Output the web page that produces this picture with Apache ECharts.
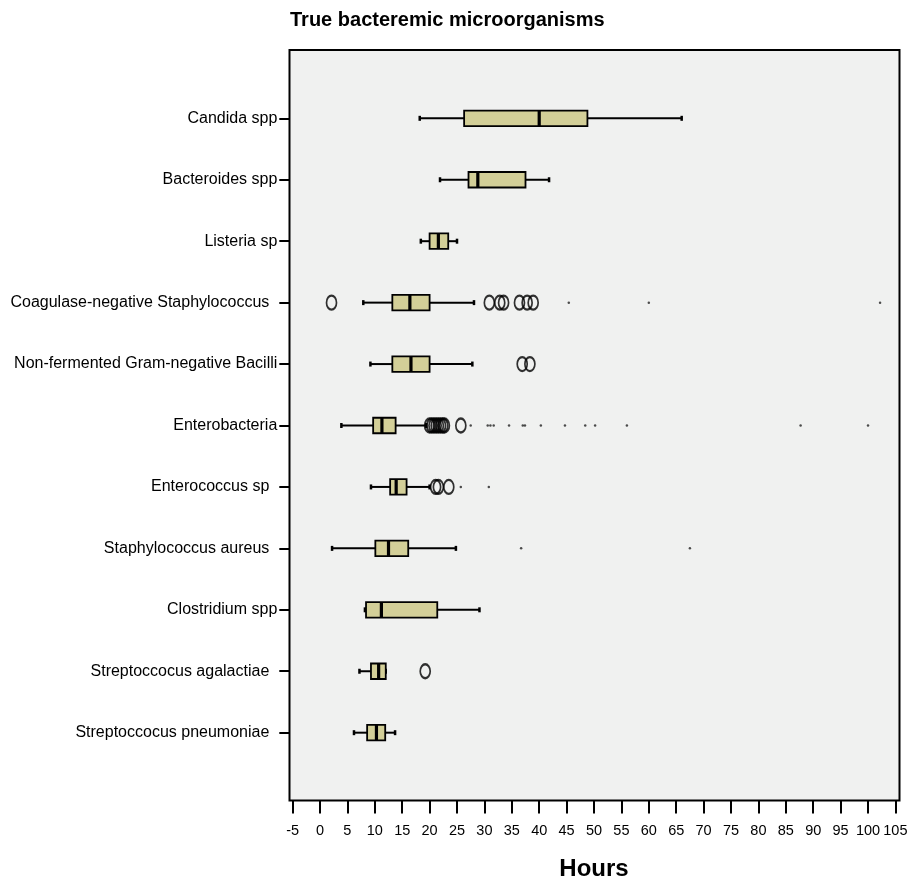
<!DOCTYPE html>
<html>
<head>
<meta charset="utf-8">
<script src="https://cdn.jsdelivr.net/npm/echarts@6/dist/echarts.min.js"></script>
<style>
html,body{margin:0;padding:0;background:#fff;}
#chart{width:909px;height:881px;}
</style>
</head>
<body>
<div id="chart"></div>
<script>
const categories = [
  'Candida spp',
  'Bacteroides spp',
  'Listeria sp',
  'Coagulase-negative Staphylococcus',
  'Non-fermented Gram-negative Bacilli',
  'Enterobacteria',
  'Enterococcus sp',
  'Staphylococcus aureus',
  'Clostridium spp',
  'Streptoccocus agalactiae',
  'Streptoccocus pneumoniae'
];
const lowWhisker  = [18.2, 21.9, 18.4,  7.9,  9.2,  3.9,  9.3,  2.2,  8.2,  7.2,  6.2];
const q1Values    = [26.3, 27.1, 20.0, 13.2, 13.2,  9.7, 12.8, 10.1,  8.4,  9.3,  8.6];
const medianVals  = [40.0, 28.8, 21.6, 16.4, 16.6, 11.3, 13.9, 12.5, 11.2, 10.7, 10.3];
const q3Values    = [48.8, 37.5, 23.4, 20.0, 20.0, 13.8, 15.8, 16.1, 21.4, 12.0, 11.9];
const highWhisker = [66.0, 41.8, 25.0, 28.1, 27.8, 19.4, 20.0, 24.8, 29.1, 12.0, 13.7];
const outliers = [
  [], [], [],
  [2.1, 30.9, 32.8, 33.5, 36.4, 37.8, 38.9],
  [36.9, 38.3],
  [20.0, 20.4, 20.8, 21.2, 21.6, 22.0, 22.4, 22.7, 25.7],
  [21.1, 21.6, 23.5],
  [], [],
  [19.2],
  []
];
const extremes = [
  [], [], [],
  [45.4, 60.0, 102.2],
  [],
  [27.5, 30.6, 31.1, 31.7, 34.5, 37.0, 37.4, 40.3, 44.7, 48.4, 50.2, 56.0, 87.7, 100.0],
  [25.7, 30.8],
  [36.7, 67.5],
  [], [], []
];
// labels that carry a trailing blank in the original figure
const paddedLabels = ['Coagulase-negative Staphylococcus', 'Enterococcus sp', 'Staphylococcus aureus',
  'Streptoccocus agalactiae', 'Streptoccocus pneumoniae'];
const xTicks = {min: -5, max: 105, interval: 5};

const boxData = categories.map((c, i) => [i, lowWhisker[i], q1Values[i], medianVals[i], q3Values[i], highWhisker[i]]);
const outlierData = [];
outliers.forEach((arr, i) => arr.forEach(v => outlierData.push([v, i])));
const extremeData = [];
extremes.forEach((arr, i) => arr.forEach(v => extremeData.push([v, i])));

const chart = echarts.init(document.getElementById('chart'), null, {renderer: 'canvas'});
const FONT = 'Liberation Sans, Arial, sans-serif';

function renderBox(params, api) {
  const cat = api.value(0);
  const lo = api.coord([api.value(1), cat]);
  const q1 = api.coord([api.value(2), cat]);
  const med = api.coord([api.value(3), cat]);
  const q3 = api.coord([api.value(4), cat]);
  const hi = api.coord([api.value(5), cat]);
  const band = api.size([0, 1])[1];
  const h = band * 0.252;
  const y = lo[1];
  const capH = 2.5;
  const lineStyle = {stroke: '#000', lineWidth: 2};
  return {
    type: 'group',
    children: [
      {type: 'line', shape: {x1: lo[0], y1: y, x2: q1[0], y2: y}, style: lineStyle},
      {type: 'line', shape: {x1: q3[0], y1: y, x2: hi[0], y2: y}, style: lineStyle},
      {type: 'line', shape: {x1: lo[0], y1: y - capH, x2: lo[0], y2: y + capH}, style: {stroke: '#000', lineWidth: 2.5}},
      {type: 'line', shape: {x1: hi[0], y1: y - capH, x2: hi[0], y2: y + capH}, style: {stroke: '#000', lineWidth: 2.5}},
      {type: 'rect', shape: {x: q1[0], y: y - h / 2, width: q3[0] - q1[0], height: h},
        style: {fill: '#d3cf98', stroke: '#000', lineWidth: 1.8}},
      {type: 'line', shape: {x1: med[0], y1: y - h / 2, x2: med[0], y2: y + h / 2}, style: {stroke: '#000', lineWidth: 3.2}}
    ]
  };
}

const option = {
  backgroundColor: '#ffffff',
  animation: false,
  title: {
    text: 'True bacteremic microorganisms',
    left: 285, top: 5,
    textStyle: {fontFamily: FONT, fontSize: 20, fontWeight: 'bold', color: '#000'}
  },
  grid: [
    {left: 289.5, top: 50, width: 610, height: 750.5, show: true, outerBoundsMode: 'none', containLabel: false,
     backgroundColor: '#f0f1f0', borderColor: '#000', borderWidth: 2},
    {left: 292.6, right: 13.6, top: 87.6, bottom: 117.6, outerBoundsMode: 'none', containLabel: false}
  ],
  xAxis: [
    {gridIndex: 0, type: 'value', show: false, min: 0, max: 1},
    {gridIndex: 1, type: 'value', min: xTicks.min, max: xTicks.max, interval: xTicks.interval,
     offset: 37, position: 'bottom',
     axisLine: {show: false, onZero: false},
     axisTick: {show: true, inside: false, length: 13, lineStyle: {color: '#000', width: 2}},
     axisLabel: {fontFamily: FONT, fontSize: 14.5, color: '#000', margin: 23},
     splitLine: {show: false},
     name: 'Hours', nameLocation: 'middle', nameGap: 57,
     nameTextStyle: {fontFamily: FONT, fontSize: 24, fontWeight: 'bold', color: '#000'}}
  ],
  yAxis: [
    {gridIndex: 0, type: 'value', show: false, min: 0, max: 1},
    {gridIndex: 1, type: 'category', data: categories, inverse: true,
     offset: 3.3, position: 'left',
     axisLine: {show: false, onZero: false},
     axisTick: {show: true, alignWithLabel: true, inside: false, length: 10, lineStyle: {color: '#000', width: 2}},
     axisLabel: {fontFamily: FONT, fontSize: 16, color: '#000', margin: 12,
       formatter: v => paddedLabels.indexOf(v) >= 0 ? '{p|' + v + '}' : v,
       rich: {p: {fontFamily: FONT, fontSize: 16, color: '#000', padding: [0, 8, 0, 0]}}},
     splitLine: {show: false}}
  ],
  series: [
    {type: 'custom', xAxisIndex: 1, yAxisIndex: 1, renderItem: renderBox,
     encode: {x: [1, 2, 3, 4, 5], y: 0}, data: boxData, z: 3},
    {type: 'scatter', xAxisIndex: 1, yAxisIndex: 1, data: outlierData,
     symbol: 'circle', symbolSize: [10, 14],
     itemStyle: {color: 'rgba(0,0,0,0)', borderColor: '#000', borderWidth: 2}, z: 4},
    {type: 'scatter', xAxisIndex: 1, yAxisIndex: 1, data: extremeData,
     symbol: 'circle', symbolSize: 2.5,
     itemStyle: {color: '#222'}, z: 4}
  ]
};
chart.setOption(option);
</script>
</body>
</html>
